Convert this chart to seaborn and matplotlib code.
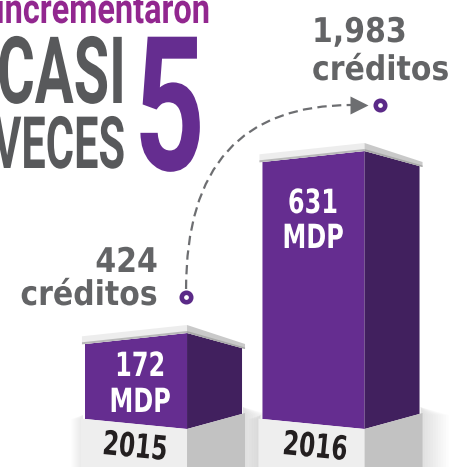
import matplotlib
matplotlib.use("Agg")
import matplotlib.pyplot as plt
import seaborn as sns
import pandas as pd
from matplotlib.patches import Polygon, PathPatch
from matplotlib.path import Path
from matplotlib.transforms import Affine2D
from matplotlib.patheffects import AbstractPathEffect

# ---------------- data ----------------
YEARS = ["2015", "2016"]
MDP = [172, 631]            # millones de pesos
CREDITS = [424, 1983]       # créditos
TITLE_TOP = "incrementaron"
TITLE_L1 = "CASI"
TITLE_L2 = "VECES"
TITLE_NUM = "5"
UNIT = "MDP"
CREDIT_WORD = "créditos"

# ---------------- layout ----------------
W, H = 456, 467
X0_PX, X_PX = 136.0, 177.5      # px of category 0 centre, px per category
Y0_PX, Y_PX = 401.2, 0.3965     # px (from top) of value 0, px per MDP unit
BASE_PX = 429.0                 # bottom of the purple blocks
C0_PX, C_PX = 349.2, 0.12316    # credit scale
CREDIT_DX = [0.282, 0.375]      # horizontal offset of credit dots from category
PURPLE = "#652d90"
PURPLE_DARK = "#41205e"
GRAY_TXT = "#636466"
GRAY_TITLE = "#58595b"
MAGENTA = "#92278f"

sns.set_theme(style="white")
plt.rcParams["font.family"] = ["DejaVu Sans"]


class Condense(AbstractPathEffect):
    """Narrow the glyphs horizontally (keeps the text as real text)."""
    def __init__(self, sx=0.6, anchor="left"):
        super().__init__()
        self.sx = sx
        self.anchor = anchor

    def draw_path(self, renderer, gc, tpath, affine, rgbFace=None):
        ext = tpath.get_extents()
        if self.anchor == "left":
            cx = 0.0
        elif self.anchor == "right":
            cx = ext.x1
        else:
            cx = 0.5 * (ext.x0 + ext.x1)
        t = Affine2D().translate(-cx, 0).scale(self.sx, 1).translate(cx, 0) + affine
        renderer.draw_path(gc, tpath, t, rgbFace)


fig = plt.figure(figsize=(W / 100, H / 100), dpi=100)
fig.patch.set_facecolor("white")
ax = fig.add_axes([0, 0, 1, 1])
df = pd.DataFrame({"year": YEARS, "mdp": MDP})
sns.barplot(data=df, x="year", y="mdp", order=YEARS, color=PURPLE,
            saturation=1, width=0.575, errorbar=None, ax=ax, zorder=2,
            linewidth=0)

ax.set_xlim(-X0_PX / X_PX, (W - X0_PX) / X_PX)
ymin, ymax = -(H - Y0_PX) / Y_PX, Y0_PX / Y_PX
ax.set_ylim(ymin, ymax)
ax.axis("off")

dx = 1.0 / X_PX
dy = 1.0 / Y_PX
BASE = -(BASE_PX - Y0_PX) / Y_PX

PX = Affine2D().scale(1, -1).translate(0, H)   # pixel (top-left origin) -> display

bars = list(ax.patches)
for p in bars:
    top = p.get_y() + p.get_height()
    p.set_y(BASE)
    p.set_height(top - BASE)
    x0 = p.get_x()
    x1 = x0 + p.get_width()
    bot = BASE
    # front face (perspective clip)
    front = Polygon([(x0, top - 11 * dy), (x1, top), (x1, bot), (x0, bot + 10 * dy)],
                    closed=True, transform=ax.transData)
    p.set_clip_path(front)
    # side face
    sw = 55 * dx
    ax.add_patch(Polygon([(x1, top), (x1 + sw, top - 15 * dy),
                          (x1 + sw, bot + 15 * dy), (x1, bot)],
                         closed=True, fc=PURPLE_DARK, ec="none", zorder=2))
    # cap (light slab on top)
    cl = x0 - 3 * dx
    cr = x1 + sw + 3 * dx
    ax.add_patch(Polygon([(cl, top - 11.3 * dy), (x1, top), (x1, top + 8 * dy),
                          (cl, top - 3.3 * dy)],
                         closed=True, fc="#ededed", ec="none", zorder=3))
    ax.add_patch(Polygon([(cl, top - 11.3 * dy), (x1, top), (x1, top + 2 * dy),
                          (cl, top - 9.3 * dy)],
                         closed=True, fc="#b9b9b9", ec="none", zorder=3))
    ax.add_patch(Polygon([(x1, top), (cr, top - 16 * dy), (cr, top - 11 * dy),
                          (x1, top + 8 * dy)],
                         closed=True, fc="#c9c9c9", ec="none", zorder=3))
    ax.add_patch(Polygon([(x1, top), (cr, top - 16 * dy), (cr, top - 14.5 * dy),
                          (x1, top + 2 * dy)],
                         closed=True, fc="#a9a9a9", ec="none", zorder=3))
    # pedestal
    pl = x0 - 4 * dx
    pr = x1 + 58 * dx
    low = ymin - 10
    # soft shadow
    for k in range(1, 11):
        ax.add_patch(Polygon([(pr - 2 * dx, bot + 22 * dy), (pr + 2.6 * k * dx, bot + 14 * dy),
                              (pr + 2.6 * k * dx, low), (pr - 2 * dx, low)],
                             closed=True, fc="black", ec="none", alpha=0.012, zorder=1))
        ax.add_patch(Polygon([(pl + 2 * dx, bot + 14 * dy), (pl - 1.0 * k * dx, bot + 10 * dy),
                              (pl - 1.0 * k * dx, low), (pl + 2 * dx, low)],
                             closed=True, fc="black", ec="none", alpha=0.008, zorder=1))
    ax.add_patch(Polygon([(pl, bot + 10.4 * dy), (x1, bot), (x1, low), (pl, low)],
                         closed=True, fc="#eeeeee", ec="none", zorder=2))
    ax.add_patch(Polygon([(x1, bot), (pr, bot + 16 * dy), (pr, low), (x1, low)],
                         closed=True, fc="#c2c2c2", ec="none", zorder=2))

# ---------------- credits (second scale) ----------------
ax2 = ax.twinx()
ax2.set_ylim(-(H - C0_PX) / C_PX, C0_PX / C_PX)
ax2.set_xlim(ax.get_xlim())
ax2.axis("off")
cx = [i + d for i, d in enumerate(CREDIT_DX)]
cdy = 1.0 / C_PX
start = (cx[0], CREDITS[0] + 8 * cdy)
end = (cx[1] - 28 * dx, CREDITS[1])
ctrl = (start[0], end[1])
arc = PathPatch(Path([start, ctrl, end], [Path.MOVETO, Path.CURVE3, Path.CURVE3]),
                fc="none", ec="#6d6e71", lw=1.6, ls=(0, (4.2, 2.4)), zorder=3)
ax2.add_patch(arc)
ax2.plot([cx[1] - 21 * dx], [CREDITS[1]], marker=">", ms=13.5, color="#6d6e71",
         mec="none", zorder=4)
ax2.plot(cx, CREDITS, ls="none", marker="o", ms=6.8, mfc="white", mec="#5b2a88",
         mew=3.3, zorder=5)

# ---------------- texts ----------------
def ptext(x, y, s, size, color, family, weight="bold", ha="left", sx=1.0,
          rot=0.0):
    kw = {}
    if sx != 1.0:
        kw["path_effects"] = [Condense(sx, ha)]
    return ax.text(x, y, s, transform=PX, fontsize=size, color=color,
                   family=family, fontweight=weight, ha=ha, va="baseline",
                   rotation=rot, rotation_mode="anchor", zorder=6, **kw)

ROB = ["Roboto", "DejaVu Sans"]
DJV = ["DejaVu Sans"]

ptext(-4, 23, TITLE_TOP, 30, MAGENTA, ROB, sx=0.78)
ptext(-3, 103, TITLE_L1, 67, GRAY_TITLE, ROB, sx=0.62)
ptext(-7, 168, TITLE_L2, 52, GRAY_TITLE, ROB, sx=0.6)
ptext(134, 170, TITLE_NUM, 135, PURPLE, ROB, sx=0.66)

# values inside bars
val_pos = [(140, 376, 412), (313, 213, 248)]
for v, (x, y1, y2) in zip(MDP, val_pos):
    ptext(x, y1, f"{v}", 24, "white", DJV, ha="center", sx=0.72)
    ptext(x, y2, UNIT, 24, "white", DJV, ha="center", sx=0.72)

# year labels on pedestals
year_pos = [(134, 457), (314, 457)]
for yr, (x, y) in zip(YEARS, year_pos):
    ptext(x, y, yr, 24, "#231f20", DJV, ha="center", sx=0.7, rot=-5.5)

# credit labels
ptext(158, 272, f"{CREDITS[0]:,}", 24.5, GRAY_TXT, DJV, ha="right", sx=0.88)
ptext(158, 305, CREDIT_WORD, 24.5, GRAY_TXT, DJV, ha="right", sx=0.88)
ptext(312, 42, f"{CREDITS[1]:,}", 24.5, GRAY_TXT, DJV, ha="left", sx=0.88)
ptext(312, 80, CREDIT_WORD, 24.5, GRAY_TXT, DJV, ha="left", sx=0.88)

fig.savefig("out.png", dpi=100, facecolor="white")
